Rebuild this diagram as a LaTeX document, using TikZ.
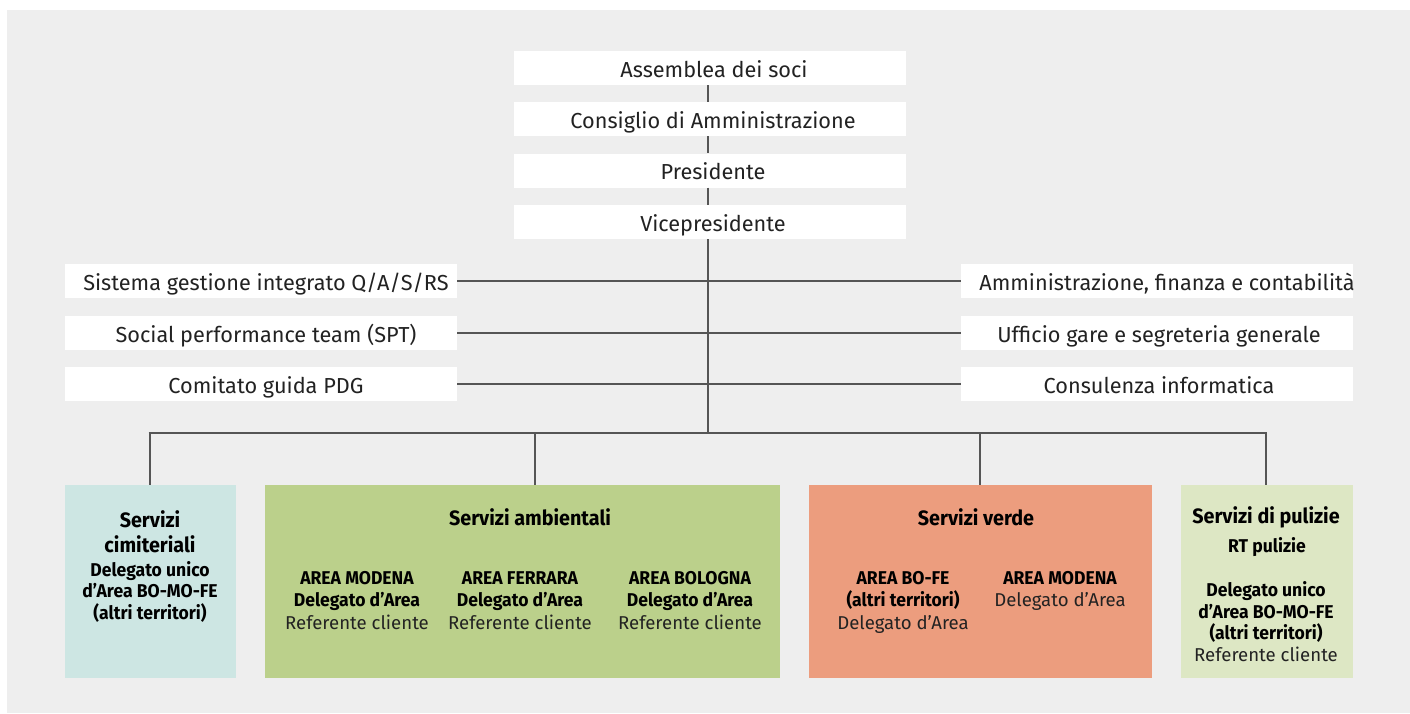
\documentclass[tikz,border=0pt]{standalone}
\usepackage{fontspec}
\setmainfont{Fira Sans}
\newfontfamily\bc[FakeStretch=0.95]{Fira Sans}
\definecolor{bg}{HTML}{EEEEEE}
\definecolor{txt}{HTML}{222222}
\definecolor{ln}{HTML}{555555}
\definecolor{cteal}{HTML}{CDE6E3}
\definecolor{cgreen}{HTML}{BBD08B}
\definecolor{corange}{HTML}{EC9D7E}
\definecolor{clight}{HTML}{DDE7C4}
\newcommand{\rg}[1]{{\fontspec{Fira Sans}\mdseries\color{txt}\fontsize{18.6}{22.5}\selectfont #1}}
\newcommand{\pad}[2]{\makebox[0pt]{\hspace*{#1pt}#2}}
\tikzset{
  wbox/.style={fill=white, minimum width=392, minimum height=34, inner sep=0, text height=19, text depth=1, text=txt, font=\fontsize{21.7}{24}\selectfont},
  conn/.style={draw=ln, line width=2.6pt},
  sbox/.style={anchor=north west, inner sep=0, minimum height=193},
  ttl/.style={inner sep=0, align=center, text=black, font=\bc\bfseries\fontsize{20.8}{25}\selectfont},
  sub/.style={inner sep=0, align=center, text=black, font=\bc\bfseries\fontsize{18.5}{22.5}\selectfont},
}
\begin{document}
\begin{tikzpicture}[x=1pt,y=-1pt]
\useasboundingbox (0,0) rectangle (1410,713);
\fill[bg] (7,10) rectangle (1410,713);
% top chain
\node[wbox] (a) at (710,68) {\pad{8}{Assemblea dei soci}};
\node[wbox] (b) at (710,119) {\pad{6}{Consiglio di Amministrazione}};
\node[wbox] (c) at (710,170.5) {\pad{6}{Presidente}};
\node[wbox] (d) at (710,222) {\pad{6}{Vicepresidente}};
% staff boxes
\node[wbox] (l1) at (261,281) {\pad{10}{Sistema gestione integrato Q/A/S/RS}};
\node[wbox] (l2) at (261,333) {\pad{10}{Social performance team (SPT)}};
\node[wbox] (l3) at (261,384) {\pad{10}{Comitato guida PDG}};
\node[wbox] (r1) at (1157,281) {\pad{20}{Amministrazione, finanza e contabilità}};
\node[wbox] (r2) at (1157,333) {\pad{4}{Ufficio gare e segreteria generale}};
\node[wbox] (r3) at (1157,384) {\pad{4}{Consulenza informatica}};
% bottom boxes
\node[sbox, fill=cteal, minimum width=171] (s1) at (65,485) {};
\node[sbox, fill=cgreen, minimum width=515] (s2) at (265,485) {};
\node[sbox, fill=corange, minimum width=343] (s3) at (809,485) {};
\node[sbox, fill=clight, minimum width=172] (s4) at (1181,485) {};
% connectors
\coordinate (sp) at (708,433);
\coordinate (j1) at (150,433);
\coordinate (j2) at (535,433);
\coordinate (j3) at (980,433);
\coordinate (j4) at (1266,433);
\draw[conn] (a.south -| sp) -- (b.north -| sp);
\draw[conn] (b.south -| sp) -- (c.north -| sp);
\draw[conn] (c.south -| sp) -- (d.north -| sp);
\draw[conn] (d.south -| sp) -- (sp);
\foreach \n in {l1,l2,l3} \draw[conn] (\n.east) -- (\n.east -| sp);
\foreach \n in {r1,r2,r3} \draw[conn] (\n.west) -- (\n.west -| sp);
\draw[conn, line cap=butt] ([xshift=-1.3pt]j1) -- ([xshift=1.3pt]j4);
\draw[conn] (j1) -- (j1 |- s1.north);
\draw[conn] (j2) -- (j2 |- s2.north);
\draw[conn] (j3) -- (j3 |- s3.north);
\draw[conn] (j4) -- (j4 |- s4.north);
% texts: cimiteriali
\node[ttl, anchor=north] (t1) at (150,510) {Servizi\\cimiteriali};
\node[sub, anchor=north, font=\bc\bfseries\fontsize{18.5}{21.6}\selectfont] (t1b) at (150,561) {Delegato unico\\d’Area BO-MO-FE\\(altri territori)};
% ambientali
\node[ttl] (t2) at (530,517) {Servizi ambientali};
\node[sub, anchor=north] (t2a) at (357,571) {AREA MODENA\\Delegato d’Area\\\rg{Referente cliente}};
\node[sub, anchor=north] (t2b) at (520,571) {AREA FERRARA\\Delegato d’Area\\\rg{Referente cliente}};
\node[sub, anchor=north] (t2c) at (690,571) {AREA BOLOGNA\\Delegato d’Area\\\rg{Referente cliente}};
% verde
\node[ttl] (t3) at (976,517) {Servizi verde};
\node[sub, anchor=north] (t3a) at (903,571) {AREA BO-FE\\(altri territori)\\\rg{Delegato d’Area}};
\node[sub, anchor=north] (t3b) at (1060,571) {AREA MODENA\\\rg{Delegato d’Area}};
% pulizie
\node[ttl] (t4) at (1266,517) {Servizi di pulizie};
\node[sub] (t4a) at (1267,547) {RT pulizie};
\node[sub, anchor=north, font=\bc\bfseries\fontsize{18.5}{21.8}\selectfont] (t4b) at (1266,581) {Delegato unico\\d’Area BO-MO-FE\\(altri territori)\\\rg{Referente cliente}};
\end{tikzpicture}
\end{document}
